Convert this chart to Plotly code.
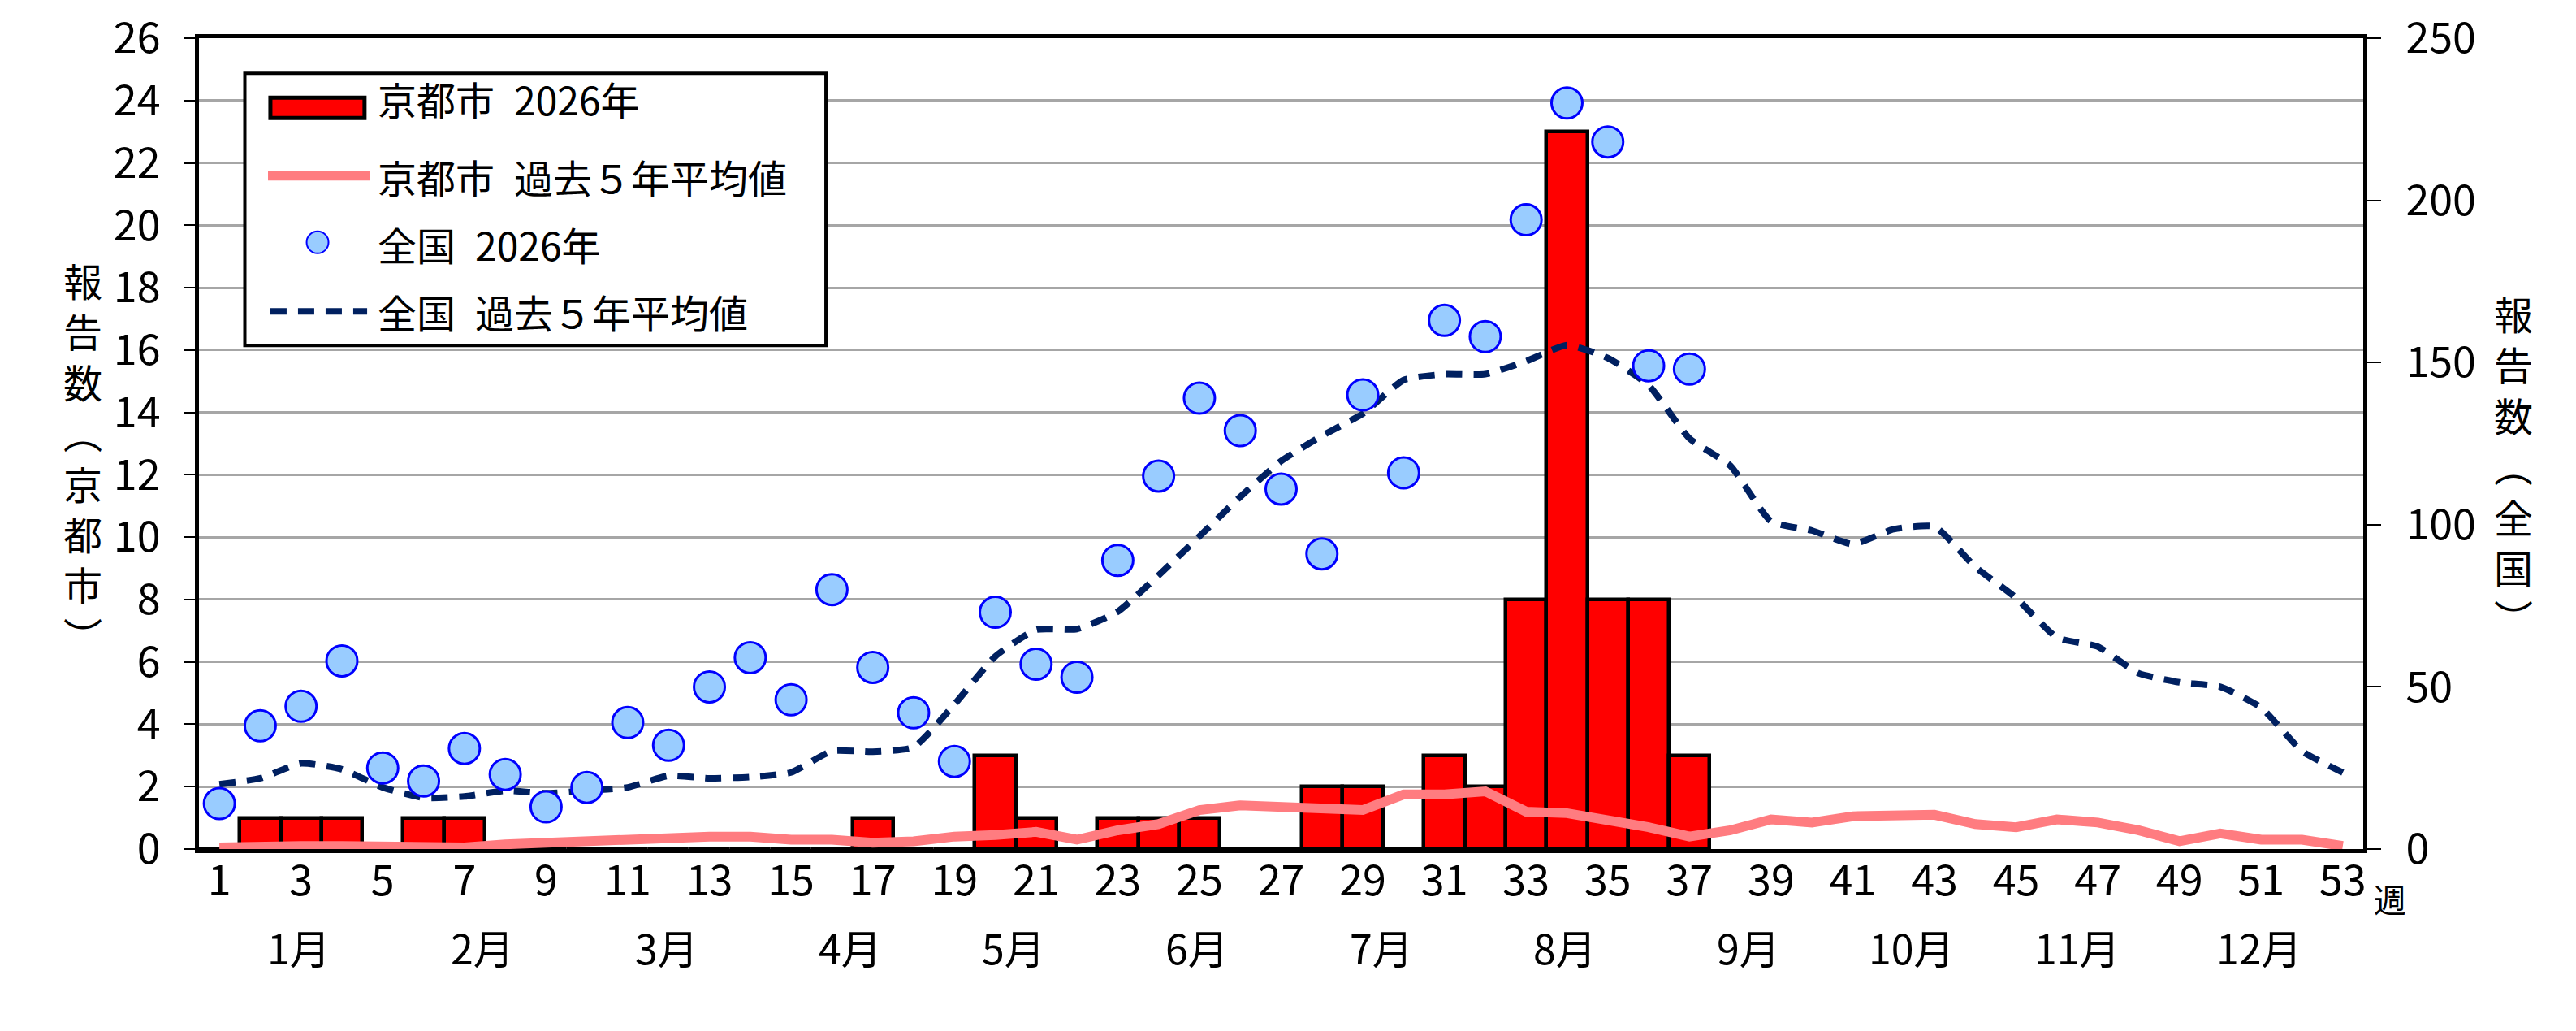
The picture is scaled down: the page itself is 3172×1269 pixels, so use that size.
import plotly.graph_objects as go

# Weekly data (week 1-53)
weeks = list(range(1, 54))
weeks_2026 = list(range(1, 38))

# Kyoto city, 2026 (bars, left axis)
kyoto_2026 = [0, 1, 1, 1, 0, 1, 1, 0, 0, 0,
              0, 0, 0, 0, 0, 0, 1, 0, 0, 3,
              1, 0, 1, 1, 1, 0, 0, 2, 2, 0,
              3, 2, 8, 23, 8, 8, 3]

# Kyoto city, past 5-year average (left axis)
kyoto_avg = [0.05, 0.1, 0.1, 0.1, 0.1, 0.1, 0.05, 0.15, 0.2, 0.25,
             0.3, 0.4, 0.4, 0.4, 0.3, 0.3, 0.2, 0.25, 0.4, 0.45,
             0.55, 0.3, 0.6, 0.8, 1.25, 1.4, 1.35, 1.3, 1.25, 1.75,
             1.75, 1.85, 1.2, 1.15, 0.95, 0.7, 0.4, 0.6, 0.95, 0.85,
             1.05, 1.1, 1.1, 0.8, 0.7, 0.95, 0.85, 0.6, 0.25, 0.5,
             0.3, 0.3, 0.1]

# Nationwide, 2026 (markers, right axis)
national_2026 = [14, 38, 44, 58, 25, 21, 31, 23, 13, 19,
                 39, 32, 50, 59, 46, 80, 56, 42, 27, 73,
                 57, 53, 89, 115, 139, 129, 111, 91, 140, 116,
                 163, 158, 194, 230, 218, 149, 148]

# Nationwide, past 5-year average (right axis)
national_avg = [20.0, 21.8, 26.4, 24.6, 19.0, 15.8, 16.2, 18.0, 17.2, 18.0,
                19.0, 22.6, 21.8, 22.2, 23.6, 30.2, 30.0, 31.4, 44.6, 59.4,
                67.6, 67.8, 73.2, 84.4, 96.4, 108.6, 119.6, 127.4, 134.2, 144.6,
                146.4, 146.4, 150.4, 155.4, 151.4, 143.0, 126.6, 118.2, 101.0, 98.2,
                94.0, 98.6, 99.4, 87.0, 77.4, 65.2, 62.4, 54.2, 51.4, 50.0,
                43.6, 30.2, 23.6]

tick_weeks = list(range(1, 54, 2))
tick_text = [str(w) for w in tick_weeks]

month_labels = ['1月', '2月', '3月', '4月', '5月', '6月',
                '7月', '8月', '9月', '10月', '11月', '12月']
month_pos = [2.95, 7.45, 11.95, 16.45, 20.45, 24.95,
             29.45, 33.95, 38.45, 42.45, 46.5, 50.95]

legend_names = ['京都市\u20022026年', '京都市\u2002過去５年平均値',
                '全国\u20022026年', '全国\u2002過去５年平均値']

FONT = 'Noto Sans CJK JP, sans-serif'
RED = '#FF0000'
PINK = '#FF7C80'
NAVY = '#002060'
LIGHTBLUE = '#99CCFF'
GRID = '#A6A6A6'

fig = go.Figure()

fig.add_trace(go.Bar(x=weeks_2026, y=kyoto_2026, width=1,
                     marker=dict(color=RED, line=dict(color='black', width=4.5)),
                     name=legend_names[0], showlegend=False))

fig.add_trace(go.Scatter(x=weeks, y=kyoto_avg, mode='lines',
                         line=dict(color=PINK, width=12),
                         name=legend_names[1], showlegend=False))

fig.add_trace(go.Scatter(x=weeks, y=national_avg, mode='lines', yaxis='y2',
                         line=dict(color=NAVY, width=8, dash='20px,14px',
                                   shape='spline', smoothing=0.5),
                         name=legend_names[3], showlegend=False))

fig.add_trace(go.Scatter(x=weeks_2026, y=national_2026, mode='markers', yaxis='y2',
                         marker=dict(color=LIGHTBLUE, size=38,
                                     line=dict(color='#0000FF', width=3)),
                         name=legend_names[2], showlegend=False))

# Hand-drawn legend box (paper coordinates)
shapes = [
    dict(type='rect', xref='paper', yref='paper', x0=0.0212, x1=0.2897, y0=0.621, y1=0.9566,
         fillcolor='white', line=dict(color='black', width=4)),
    dict(type='rect', xref='paper', yref='paper', x0=0.0330, x1=0.0765, y0=0.9015, y1=0.9266,
         fillcolor=RED, line=dict(color='black', width=5)),
    dict(type='line', xref='paper', yref='paper', x0=0.0319, x1=0.0788, y0=0.8304, y1=0.8304,
         line=dict(color=PINK, width=12)),
    dict(type='circle', xref='paper', yref='paper', xsizemode='pixel', ysizemode='pixel',
         xanchor=0.0548, yanchor=0.7482, x0=-13.5, x1=13.5, y0=-13.5, y1=13.5,
         fillcolor=LIGHTBLUE, line=dict(color='#0000FF', width=2)),
    dict(type='line', xref='paper', yref='paper', x0=0.0330, x1=0.0777, y0=0.663, y1=0.663,
         line=dict(color=NAVY, width=8, dash='20px,14px')),
]

annotations = []
for name, ypos in zip(legend_names, [0.9256, 0.8293, 0.7463, 0.663]):
    annotations.append(dict(text=name, xref='paper', yref='paper', x=0.0818, y=ypos,
                            xanchor='left', yanchor='middle', showarrow=False,
                            font=dict(family=FONT, size=48, color='black')))

for lab, pos in zip(month_labels, month_pos):
    annotations.append(dict(text=lab, xref='x', yref='paper', x=pos, y=-0.1203,
                            xanchor='center', yanchor='middle', showarrow=False,
                            font=dict(family=FONT, size=50, color='black')))

annotations.append(dict(text='週', xref='paper', yref='paper', x=1.0125, y=-0.0614,
                        xanchor='center', yanchor='middle', showarrow=False,
                        font=dict(family=FONT, size=40, color='black')))

# vertical axis titles
annotations.append(dict(text='報<br>告<br>数<br>︵<br>京<br>都<br>市<br>︶',
                        xref='paper', yref='paper', x=-0.0537, y=0.483,
                        xanchor='center', yanchor='middle', showarrow=False,
                        font=dict(family=FONT, size=48, color='black')))
annotations.append(dict(text='報<br>告<br>数<br>︵<br>全<br>国<br>︶',
                        xref='paper', yref='paper', x=1.0695, y=0.474,
                        xanchor='center', yanchor='middle', showarrow=False,
                        font=dict(family=FONT, size=48, color='black')))

# page body has an 8px margin, so the figure is 16px smaller than the window
fig.update_layout(
    width=3156, height=1253,
    margin=dict(l=237, r=254, t=39, b=216, autoexpand=False),
    plot_bgcolor='white', paper_bgcolor='white',
    font=dict(family=FONT, size=52, color='black'),
    showlegend=False,
    bargap=0,
    shapes=shapes,
    annotations=annotations,
    xaxis=dict(range=[0.5, 53.5], tickvals=tick_weeks, ticktext=tick_text,
               showgrid=False, zeroline=False, showline=True, linecolor='black',
               linewidth=5, mirror=True, ticks='', ticklabelstandoff=-10,
               automargin=False, ticklabeloverflow='allow', tickfont=dict(size=52)),
    yaxis=dict(range=[0, 26], dtick=2, showgrid=True, gridcolor=GRID, gridwidth=3,
               zeroline=False, showline=True, linecolor='black', linewidth=5,
               ticks='outside', ticklen=14, tickwidth=2, tickcolor='black',
               ticklabelstandoff=18, automargin=False, ticklabeloverflow='allow',
               tickfont=dict(size=52)),
    yaxis2=dict(range=[0, 250], dtick=50, overlaying='y', side='right',
                showgrid=False, zeroline=False, showline=True, linecolor='black',
                linewidth=5, ticks='outside', ticklen=17, tickwidth=2,
                tickcolor='black', ticklabelstandoff=20, automargin=False,
                ticklabeloverflow='allow', tickfont=dict(size=52)),
)

fig.write_html("out.html")
